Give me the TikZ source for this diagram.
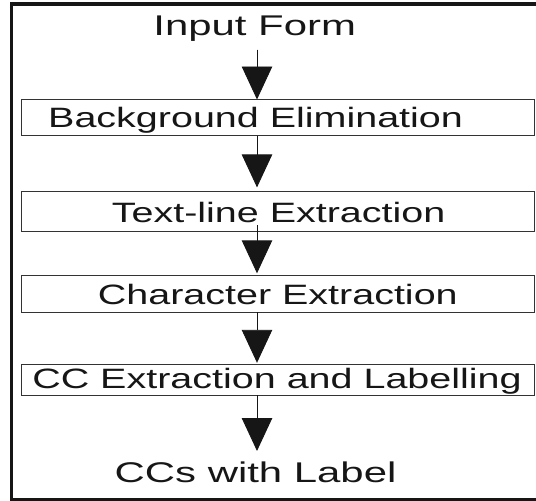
\documentclass[tikz,border=0pt]{standalone}
\usepackage{fontspec}
\setmainfont{Liberation Sans}
\usetikzlibrary{arrows.meta}
\definecolor{ink}{HTML}{161616}
\tikzset{
  stagebox/.style={draw=black!80, line width=0.9pt, minimum width=513pt, inner sep=0pt, outer sep=0pt},
  lbl/.style={anchor=base, inner sep=0pt, outer sep=0pt, text=ink},
  flow/.style={draw=ink, line width=0.9pt, -{Triangle[width=30.5pt,length=33pt]}, fill=ink},
  frame/.style={draw=ink, line width=3.5pt}
}
\newcommand{\stagetxt}[1]{\scalebox{1.41}[1]{\fontsize{28}{30}\selectfont #1}}
\newcommand{\termtxt}[1]{\scalebox{1.47}[1]{\fontsize{28.5}{30}\selectfont #1}}
\begin{document}
\begin{tikzpicture}[x=1pt,y=1pt]
\useasboundingbox (0,0) rectangle (536,-501);
% outer frame (open to the right)
\draw[frame] (545,-3.8) -- (11.7,-3.8) -- (11.7,-499.5) -- (545,-499.5);
% boxes
\node[stagebox, minimum height=36pt] (b1) at (277.5,-117.5) {};
\node[stagebox, minimum height=40pt] (b2) at (277.5,-211) {};
\node[stagebox, minimum height=37pt] (b3) at (277.5,-293.5) {};
\node[stagebox, minimum height=31pt] (b4) at (277.5,-379.5) {};
% texts
\node[lbl] (tin) at (254.7,-35.9) {\termtxt{Input Form}};
\node[lbl] (t1) at (255.6,-127.3) {\stagetxt{Background Elimination}};
\node[lbl] (t2) at (278.6,-222.6) {\stagetxt{Text-line Extraction}};
\node[lbl] (t3) at (277.8,-304.7) {\stagetxt{Character Extraction}};
\node[lbl] (t4) at (277,-388.3) {\stagetxt{CC Extraction and Labelling}};
\node[lbl] (tout) at (255.6,-482.8) {\termtxt{CCs with Label}};
% arrow axis
\coordinate (ax) at (257,0);
\coordinate (s0) at (257,-49.6);
\coordinate (e5) at (257,-451);
\draw[flow] (s0) -- (b1.north -| ax);
\draw[flow, shorten >=3.6pt] (b1.south -| ax) -- (b2.north -| ax);
\draw[flow, shorten >=1.7pt] ([yshift=6pt]b2.south -| ax) -- (b3.north -| ax);
\draw[flow, shorten >=1.2pt] (b3.south -| ax) -- (b4.north -| ax);
\draw[flow] (b4.south -| ax) -- (e5);
\end{tikzpicture}
\end{document}
